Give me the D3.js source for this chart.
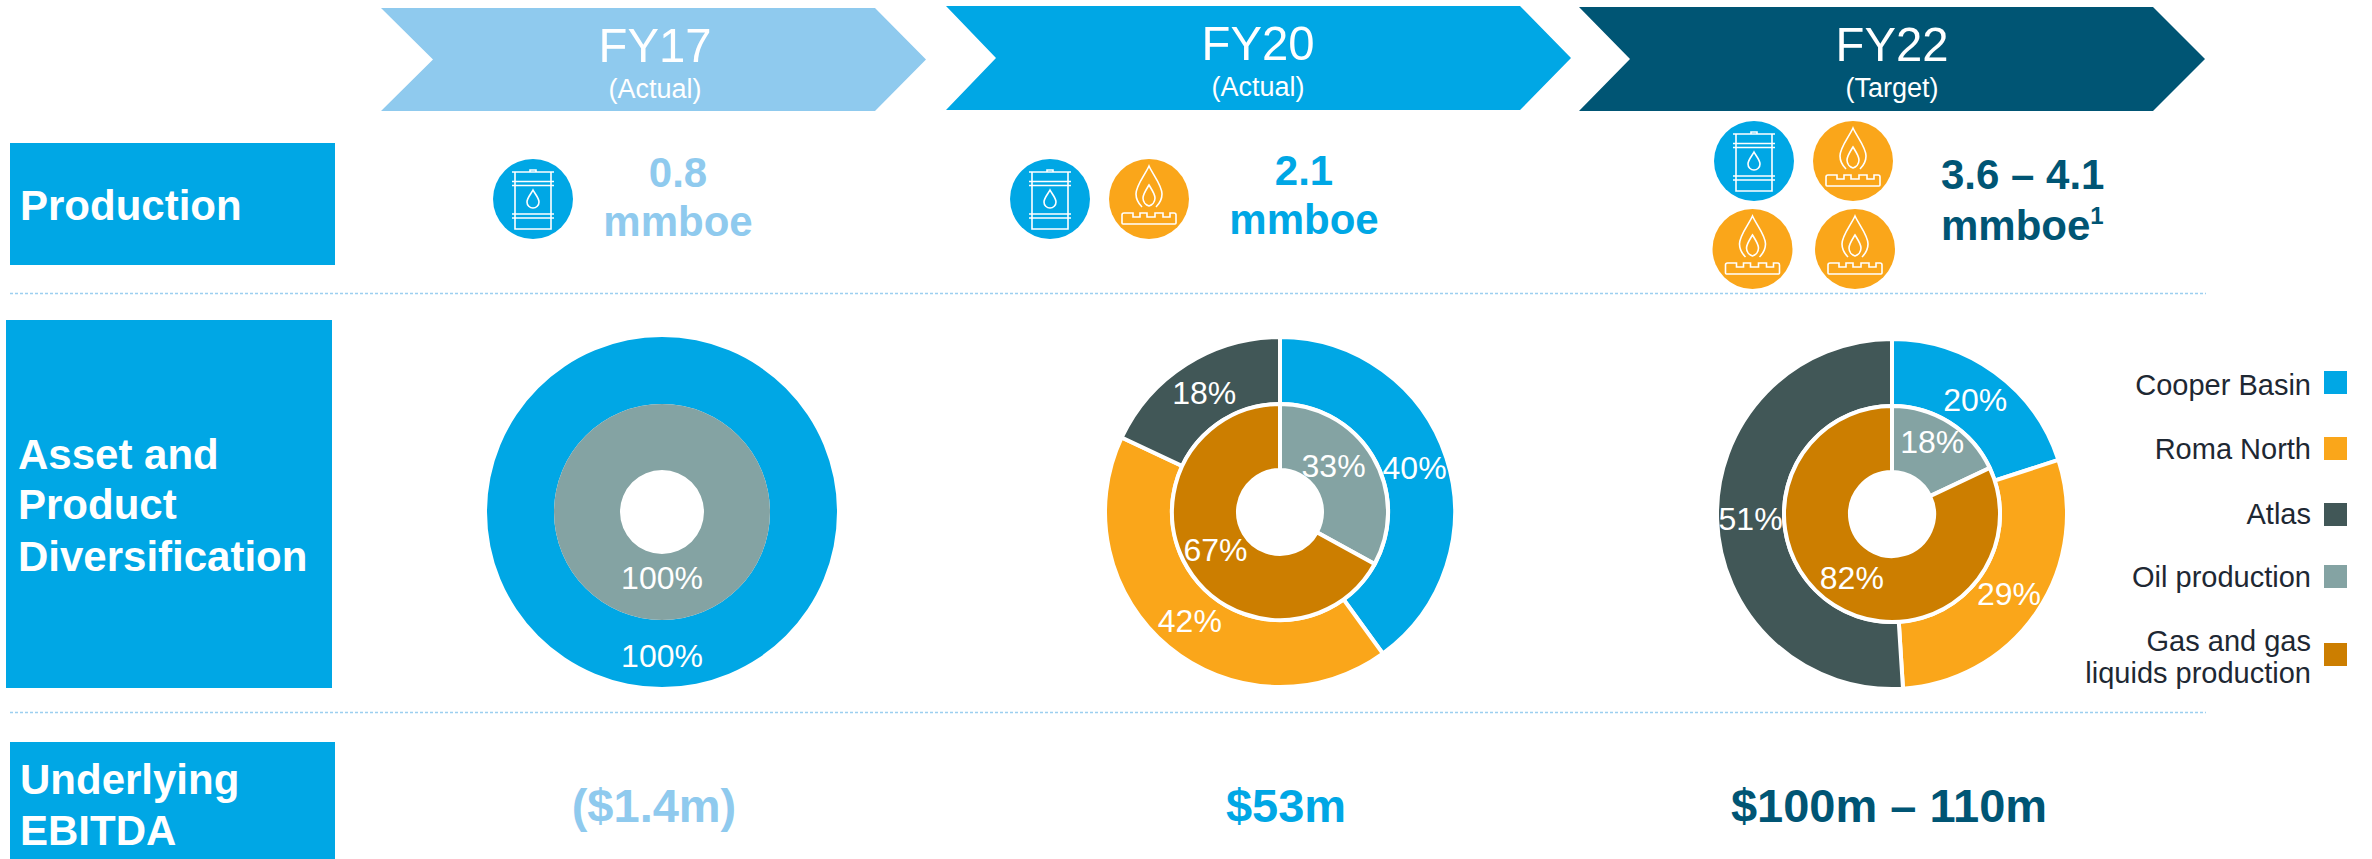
<!DOCTYPE html>
<html><head><meta charset="utf-8">
<script src="https://cdn.jsdelivr.net/npm/d3@7"></script>
<style>html,body{margin:0;padding:0;background:#fff;overflow:hidden}svg{display:block}text{font-family:"Liberation Sans",Arial,sans-serif}</style>
</head><body><div id="chart"></div>
<script>
// ---- data ----
const periods = ["FY17","FY20","FY22"];
const periodNotes = ["(Actual)","(Actual)","(Target)"];
const rowTitles = [["Production"],["Asset and","Product","Diversification"],["Underlying","EBITDA"]];
const productionValues = ["0.8","2.1","3.6 – 4.1"];
const productionUnits = ["mmboe","mmboe","mmboe"];
const ebitdaValues = ["($1.4m)","$53m","$100m – 110m"];
const assetNames = ["Cooper Basin","Roma North","Atlas"];
const productNames = ["Oil production","Gas and gas liquids production"];
const assetShareFY17 = [100,0,0];
const assetShareFY20 = [40,42,18];
const assetShareFY22 = [20,29,51];
const productShareFY17 = [100,0];
const productShareFY20 = [33,67];
const productShareFY22 = [18,82];
const legendLabels = [["Cooper Basin"],["Roma North"],["Atlas"],["Oil production"],["Gas and gas","liquids production"]];

// ---- styles and layout ----
const W=2372,H=859;
const C={light:"#8FCAEE",blue:"#00A7E5",navy:"#005574",orange:"#FAA61A",slate:"#415757",oil:"#84A3A3",gas:"#CC7E00",ink:"#1E2833",dash:"#9CCFF0"};
const periodColors=[C.light,C.blue,C.navy];
const assetColor=d3.scaleOrdinal(assetNames,[C.blue,C.orange,C.slate]);
const productColor=d3.scaleOrdinal(productNames,[C.oil,C.gas]);
const svg=d3.select("#chart").append("svg").attr("width",W).attr("height",H).attr("viewBox",`0 0 ${W} ${H}`);

// chevrons
const chevrons=[
 {x0:381,notch:433,sh:875,tip:926,y0:8,y1:111,cx:655,b1:62,b2:98},
 {x0:946,notch:996,sh:1520,tip:1571,y0:6,y1:110,cx:1258,b1:60,b2:96},
 {x0:1579,notch:1630,sh:2153,tip:2205,y0:7,y1:111,cx:1892,b1:61,b2:97}];
chevrons.forEach((c,i)=>{
  const m=(c.y0+c.y1)/2;
  svg.append("path").attr("fill",periodColors[i])
    .attr("d",d3.line()([[c.x0,c.y0],[c.sh,c.y0],[c.tip,m],[c.sh,c.y1],[c.x0,c.y1],[c.notch,m]])+"Z");
  svg.append("text").attr("x",c.cx).attr("y",c.b1).attr("text-anchor","middle").attr("font-size",49)
    .attr("textLength",113).attr("lengthAdjust","spacingAndGlyphs").attr("fill","#fff").text(periods[i]);
  svg.append("text").attr("x",c.cx).attr("y",c.b2).attr("text-anchor","middle").attr("font-size",27).attr("fill","#fff").text(periodNotes[i]);
});

// row boxes
const boxes=[{x:10,y:143,w:325,h:122,tx:20,b:[220]},
 {x:6,y:320,w:326,h:368,tx:18,b:[469,519,571]},
 {x:10,y:742,w:325,h:117,tx:20,b:[794,845]}];
boxes.forEach((b,i)=>{
  svg.append("rect").attr("x",b.x).attr("y",b.y).attr("width",b.w).attr("height",b.h).attr("fill",C.blue);
  rowTitles[i].forEach((t,j)=>svg.append("text").attr("x",b.tx).attr("y",b.b[j]).attr("font-size",42).attr("font-weight",700).attr("fill","#fff").text(t));
});

// dashed separators
[293.5,712.5].forEach(y=>svg.append("line").attr("x1",10).attr("x2",2206).attr("y1",y).attr("y2",y)
  .attr("stroke",C.dash).attr("stroke-width",1.5).attr("stroke-dasharray","3 2"));

// icons
function oilIcon(x,y){
  const g=svg.append("g").attr("transform",`translate(${x},${y})`);
  g.append("circle").attr("r",40).attr("fill",C.blue);
  const s=g.append("g").attr("fill","none").attr("stroke","#fff").attr("stroke-width",1.6);
  s.append("path").attr("d","M-18,-27V30H18V-27");
  s.append("path").attr("d","M-21,-27H21M-21,-17.5H21M-21,-13.5H21M-21,15H21M-21,19H21");
  s.append("path").attr("d","M-3,-27V-29H3V-27");
  s.append("path").attr("d","M0,-9C2,-5 6,-1 6,3A6,6 0 0 1 -6,3C-6,-1 -2,-5 0,-9Z");
}
function gasIcon(x,y){
  const g=svg.append("g").attr("transform",`translate(${x},${y})`);
  g.append("circle").attr("r",40).attr("fill",C.orange);
  const s=g.append("g").attr("fill","none").attr("stroke","#fff").attr("stroke-width",1.6);
  s.append("path").attr("d","M-7,8C-10,5 -13,0 -13,-5C-13,-14 -4,-24 0,-33C4,-24 13,-14 13,-5C13,0 10,5 7,8");
  s.append("path").attr("d","M0,-14C3,-9 6,-5 6,-1C6,3 3,6 0,7C-3,6 -6,3 -6,-1C-6,-5 -3,-9 0,-14Z");
  s.append("path").attr("d","M-27,16V24Q-27,25 -26,25H26Q27,25 27,24V16Q27,14 25,14H21V18H14V14H6V18H-2V14H-9V18H-16V14H-25Q-27,14 -27,16Z");
}
oilIcon(533,199);
oilIcon(1050,199);gasIcon(1149,199);
oilIcon(1754,161);gasIcon(1853,161);gasIcon(1752.5,249);gasIcon(1855,249);

// production figures
const prodPos=[{x:678,a:"middle",b1:187,b2:236},{x:1304,a:"middle",b1:185,b2:234},{x:1941,a:"start",b1:189,b2:240}];
prodPos.forEach((p,i)=>{
  svg.append("text").attr("x",p.x).attr("y",p.b1).attr("text-anchor",p.a).attr("font-size",42).attr("font-weight",700).attr("fill",periodColors[i]).text(productionValues[i]);
  const u=svg.append("text").attr("x",p.x).attr("y",p.b2).attr("text-anchor",p.a).attr("font-size",42).attr("font-weight",700).attr("fill",periodColors[i]).text(productionUnits[i]);
  if(i===2) u.append("tspan").attr("font-size",24).attr("dy",-16).text("1");
});

// EBITDA figures
[654,1286,1889].forEach((x,i)=>svg.append("text").attr("x",x).attr("y",822).attr("text-anchor","middle")
  .attr("font-size",47).attr("font-weight",700).attr("fill",periodColors[i]).text(ebitdaValues[i]));

// donuts
const pie=d3.pie().value(d=>d.v).sort(null);
const outerArc=d3.arc().innerRadius(108).outerRadius(175);
const innerArc=d3.arc().innerRadius(42).outerRadius(108);
const donuts=[
 {cx:662,cy:512,a:assetShareFY17,p:productShareFY17,innerDx:0,innerDy:-9,outerDy:2},
 {cx:1280,cy:512,a:assetShareFY20,p:productShareFY20,innerDx:-11,innerDy:-8,outerDy:0},
 {cx:1892,cy:514,a:assetShareFY22,p:productShareFY22,innerDx:0,innerDy:-9,outerDy:0}];
donuts.forEach(D=>{
  const g=svg.append("g").attr("transform",`translate(${D.cx},${D.cy})`);
  const ring=(vals,names,color,arc,ringName)=>{
    const arcs=pie(vals.map((v,i)=>({v,name:names[i]}))).filter(d=>d.data.v>0);
    const multi=arcs.length>1;
    g.selectAll(null).data(arcs).enter().append("path").attr("d",arc)
      .attr("fill",d=>color(d.data.name)).attr("stroke",multi?"#fff":"none").attr("stroke-width",4);
    return {arcs,arc,ringName};
  };
  const rings=[ring(D.a,assetNames,assetColor,outerArc,"outer"),ring(D.p,productNames,productColor,innerArc,"inner")];
  rings.forEach(r=>{
    g.selectAll(null).data(r.arcs).enter().append("text")
      .attr("transform",(d,i)=>{
        const [x,y]=r.arc.centroid(d);
        const dx=r.ringName==="inner"&&i===0?D.innerDx:0;
        const dy=r.ringName==="inner"&&i===0?D.innerDy:(r.ringName==="outer"?D.outerDy:0);
        return `translate(${x+dx},${y+dy})`;
      })
      .attr("dy","0.35em").attr("text-anchor","middle").attr("font-size",32).attr("fill","#fff")
      .text(d=>d.data.v+"%");
  });
});

// legend
const legendColors=[C.blue,C.orange,C.slate,C.oil,C.gas];
const legendPos=[{y:371,b:[395]},{y:437,b:[459]},{y:503,b:[524]},{y:565,b:[587]},{y:643,b:[651,683]}];
legendLabels.forEach((lines,i)=>{
  svg.append("rect").attr("x",2324).attr("y",legendPos[i].y).attr("width",23).attr("height",23).attr("fill",legendColors[i]);
  lines.forEach((t,j)=>svg.append("text").attr("x",2311).attr("y",legendPos[i].b[j]).attr("text-anchor","end").attr("font-size",29).attr("fill",C.ink).text(t));
});
</script></body></html>
